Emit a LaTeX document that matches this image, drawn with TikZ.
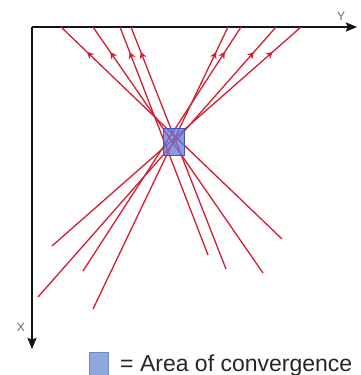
\documentclass[tikz,border=0pt]{standalone}
\usepackage{fontspec}
\setmainfont{Liberation Sans}
\usetikzlibrary{arrows.meta,decorations.markings}
\definecolor{rayred}{RGB}{210,30,50}
\definecolor{convblue}{RGB}{100,120,215}
\definecolor{convedge}{RGB}{70,85,180}
\definecolor{legblue}{RGB}{145,168,220}
\definecolor{legedge}{RGB}{110,135,200}
\definecolor{axisgray}{RGB}{20,20,20}
\tikzset{
  ray/.style={draw=rayred, line width=1.3pt},
  upmark/.style={postaction={decorate, decoration={markings,
      mark=at position #1 with {\arrow{Stealth[length=6.5pt,width=7pt,inset=2pt]}}}}},
  axisline/.style={draw=axisgray, line width=1.8pt, -{Stealth[length=11pt,width=9pt,inset=1.5pt]}},
  axislabel/.style={text=black!60, font=\fontsize{12}{14}\selectfont, inner sep=0pt},
}
\begin{document}
\begin{tikzpicture}[x=1pt,y=-1pt]
\useasboundingbox (0,0) rectangle (360,375);
% axes
\coordinate (O) at (32,27);
\coordinate (Yend) at (357,27);
\coordinate (Xend) at (32,349);
\draw[axisline] (O) -- (Yend);
\draw[axisline] (O) -- (Xend);
\node[axislabel] (ylab) at (341,16) {Y};
\node[axislabel] (xlab) at (21,327) {X};
% ray endpoints
\coordinate (t1) at (61,27);
\coordinate (t2) at (93,27);
\coordinate (t3) at (120,27);
\coordinate (t4) at (131,27);
\coordinate (t5) at (228,27);
\coordinate (t6) at (241,27);
\coordinate (t7) at (276,27);
\coordinate (t8) at (301,27);
\coordinate (b1) at (282,239);
\coordinate (b2) at (263,273);
\coordinate (b3) at (208,255);
\coordinate (b4) at (226,269);
\coordinate (b5) at (93,309);
\coordinate (b6) at (83,271);
\coordinate (b7) at (38,297);
\coordinate (b8) at (52,246);
% rays
\draw[ray, upmark=0.882] (b1) -- (t1);
\draw[ray, upmark=0.898] (b2) -- (t2);
\draw[ray, upmark=0.890] (b3) -- (t3);
\draw[ray, upmark=0.897] (b4) -- (t4);
\draw[ray, upmark=0.911] (b5) -- (t5);
\draw[ray, upmark=0.898] (b6) -- (t6);
\draw[ray, upmark=0.907] (b7) -- (t7);
\draw[ray, upmark=0.886] (b8) -- (t8);
% area of convergence
\node[draw=convedge, fill=convblue, fill opacity=0.75, line width=0.6pt,
      minimum width=21pt, minimum height=27pt, inner sep=0pt] (conv) at (173.5,141.5) {};
% legend
\node[draw=legedge, fill=legblue, line width=0.6pt,
      minimum width=19pt, minimum height=26pt, inner sep=0pt, anchor=north west] (legbox) at (89,352) {};
\node[anchor=base west, inner sep=0pt, font=\fontsize{23}{27}\selectfont, text=black!85] (legtext) at (120,371.5) {= Area of convergence};
\end{tikzpicture}
\end{document}
